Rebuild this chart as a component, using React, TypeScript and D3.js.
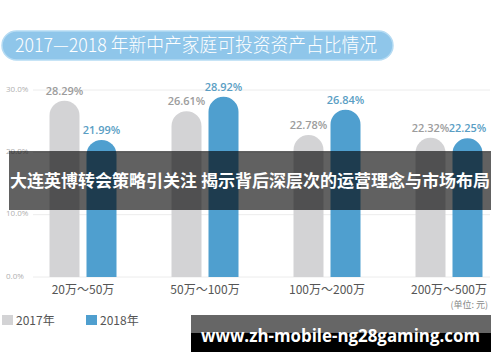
import React from "react";
import * as d3 from "d3";

const categories = ["20万～50万", "50万～100万", "100万～200万", "200万～500万"];
const series2017 = [28.29, 26.61, 22.78, 22.32];
const series2018 = [21.99, 28.92, 26.84, 22.25];
const yTicks = [0, 10, 20, 30];
const seriesNames = ["2017年", "2018年"];
const title = "2017—2018 年新中产家庭可投资资产占比情况";
const overlayText = "大连英博转会策略引关注 揭示背后深层次的运营理念与市场布局";
const watermark = "www.zh-mobile-ng28gaming.com";
const unitText = "(单位: 元)";

const W = 500;
const H = 362;
const CJK = '"Noto Sans CJK SC", "Noto Sans", sans-serif';

export default function App() {
  const x = d3.scaleBand<string>().domain(categories).range([22, 510]).paddingInner(0).paddingOuter(0);
  const y = d3.scaleLinear().domain([0, 30]).range([277, 90]);
  const barW = 30;
  const gap = 7;
  const colors = ["#d3d3d5", "#4f9fcf"];
  const labelColors = ["#9c9c9c", "#5a9ec4"];

  const barPath = (cx: number, v: number) => {
    const x0 = cx - barW / 2;
    const top = y(v);
    const base = y(0);
    const r = barW / 2;
    return `M${x0},${base} L${x0},${top + r} A${r},${r} 0 0 1 ${x0 + barW},${top + r} L${x0 + barW},${base} Z`;
  };

  return (
    <svg width={W} height={H} style={{ position: "absolute", left: 0, top: 0, background: "#fff" }}>
      <rect x={0} y={0} width={W} height={H} fill="#fff" />
      {/* title pill */}
      <rect x={2} y={31} width={391} height={29} rx={14.5} fill="#8fc6ea" stroke="#b5dbf3" strokeWidth={1.5} />
      <text x={15} y={52} fill="#fff" fontFamily={CJK} fontSize={19} fontWeight={300} textLength={362} lengthAdjust="spacingAndGlyphs">
        {title}
      </text>
      {/* grid + y axis */}
      {yTicks.map((t) => (
        <g key={t}>
          <line x1={33} x2={490} y1={y(t)} y2={y(t)} stroke="#ececec" strokeWidth={1} />
          <text x={6} y={y(t) - 0.5} fill="#b0b0b0" fontFamily='"Open Sans", sans-serif' fontSize={8} dominantBaseline="middle">
            {t.toFixed(1)}%
          </text>
        </g>
      ))}
      {/* bars */}
      {categories.map((c, i) => {
        const cx = (x(c) as number) + x.bandwidth() / 2;
        const vals = [series2017[i], series2018[i]];
        return (
          <g key={c}>
            {vals.map((v, j) => {
              const bx = cx + (j === 0 ? -(gap / 2 + barW / 2) : gap / 2 + barW / 2);
              return (
                <g key={j}>
                  <path d={barPath(bx, v)} fill={colors[j]} />
                  <text x={bx} y={y(v) - 6} textAnchor="middle" fill={labelColors[j]} fontFamily='"Open Sans", sans-serif' fontSize={11} fontWeight={600}>
                    {v.toFixed(2)}%
                  </text>
                </g>
              );
            })}
            <text x={cx} y={294} textAnchor="middle" fill="#555" fontFamily={CJK} fontSize={12}>
              {c}
            </text>
          </g>
        );
      })}
      <text x={488} y={308} textAnchor="end" fill="#888" fontFamily={CJK} fontSize={9}>
        {unitText}
      </text>
      {/* legend */}
      {seriesNames.map((s, j) => (
        <g key={s} transform={`translate(${2 + j * 84},315)`}>
          <rect x={0} y={0} width={11} height={10} fill={colors[j]} />
          <text x={14} y={10} fill="#555" fontFamily={CJK} fontSize={12}>
            {s}
          </text>
        </g>
      ))}
      {/* overlay band */}
      <rect x={9} y={151} width={482} height={59} fill="rgba(0,0,0,0.62)" />
      <text x={10} y={187} fill="#fff" fontFamily={CJK} fontSize={16.5} fontWeight={700} textLength={480} lengthAdjust="spacingAndGlyphs">
        {overlayText}
      </text>
      {/* watermark */}
      <rect x={191} y={315} width={300} height={18} fill="#666" />
      <rect x={191} y={333} width={300} height={19} fill="#000" />
      <text x={201} y={342} fill="#fff" fontFamily='"Open Sans", "DejaVu Sans", sans-serif' fontSize={17} fontWeight={700} textLength={279} lengthAdjust="spacingAndGlyphs">
        {watermark}
      </text>
    </svg>
  );
}
